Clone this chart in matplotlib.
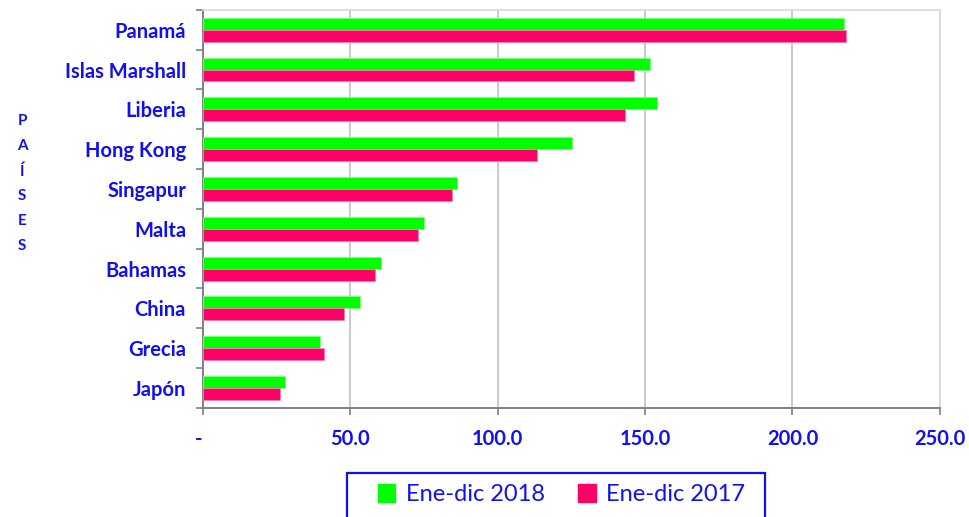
import numpy as np
import matplotlib.pyplot as plt
from matplotlib.patches import Patch, Rectangle

# datos
paises = ["Panamá", "Islas Marshall", "Liberia", "Hong Kong", "Singapur",
          "Malta", "Bahamas", "China", "Grecia", "Japón"]
ene_dic_2018 = [217.5, 151.7, 154.1, 125.2, 86.3, 75.1, 60.5, 53.3, 39.8, 28.0]
ene_dic_2017 = [218.2, 146.4, 143.2, 113.5, 84.5, 73.0, 58.4, 47.9, 41.0, 26.3]
xticks = [0, 50, 100, 150, 200, 250]
xtick_labels = ["-", "50.0", "100.0", "150.0", "200.0", "250.0"]

verde = "#00ff00"
rojo = "#ff0066"
azul = "#1010f0"

plt.rcParams['font.family'] = ['Lato', 'DejaVu Sans']

fig = plt.figure(figsize=(9.7, 5.17), dpi=100)
ax = fig.add_axes([0.209, 0.211, 0.76, 0.77])

y = np.arange(len(paises))
h = 0.3
ax.barh(y - h / 2, ene_dic_2018, height=h, color=verde, edgecolor="#80ff80", linewidth=0.6, zorder=3)
ax.barh(y + h / 2, ene_dic_2017, height=h, color=rojo, edgecolor="#ff80b0", linewidth=0.6, zorder=3)

ax.set_xlim(0, 250)
ax.set_ylim(len(paises) - 0.5, -0.5)
ax.set_xticks(xticks)
ax.set_xticklabels(xtick_labels, color=azul, fontweight="bold", fontsize=14.5)
ax.get_xticklabels()[0].set_horizontalalignment("right")
ax.set_yticks(y)
ax.set_yticklabels(paises, color=azul, fontweight="bold", fontsize=14.5)
ax.set_yticks(np.arange(len(paises) + 1) - 0.5, minor=True)
ax.tick_params(axis="y", which="major", length=0, pad=12)
ax.tick_params(axis="y", which="minor", length=5, color="#808080", width=1.2)
ax.tick_params(axis="x", length=5, color="#808080", width=1.2, pad=10)
ax.grid(axis="x", color="#c0c0c0", linewidth=1.2, zorder=0)

for s in ["top", "right"]:
    ax.spines[s].set_color("#d9d9d9")
    ax.spines[s].set_linewidth(1.2)
for s in ["left", "bottom"]:
    ax.spines[s].set_color("#808080")
    ax.spines[s].set_linewidth(1.4)

# etiqueta vertical del eje
fig.text(0.023, 0.645, "\n".join("PAÍSES"), color=azul, fontweight="bold",
         fontsize=11, ha="center", va="center", linespacing=1.97)

# recuadro de la leyenda
W, H = 970, 517
fig.patches.append(Rectangle((347 / W, -0.01), (765 - 347) / W, 0.01 + (H - 473) / H,
                             transform=fig.transFigure, fill=False,
                             edgecolor=azul, linewidth=1.6))
handles = [Patch(color=verde, label="Ene-dic 2018"), Patch(color=rojo, label="Ene-dic 2017")]
leg = fig.legend(handles=handles, loc="center", bbox_to_anchor=(0.579, 0.043),
                 ncol=2, fontsize=17, frameon=False,
                 handlelength=0.75, handleheight=0.75, columnspacing=1.4,
                 handletextpad=0.45)
for t in leg.get_texts():
    t.set_color(azul)

plt.savefig("out.png", dpi=100)
